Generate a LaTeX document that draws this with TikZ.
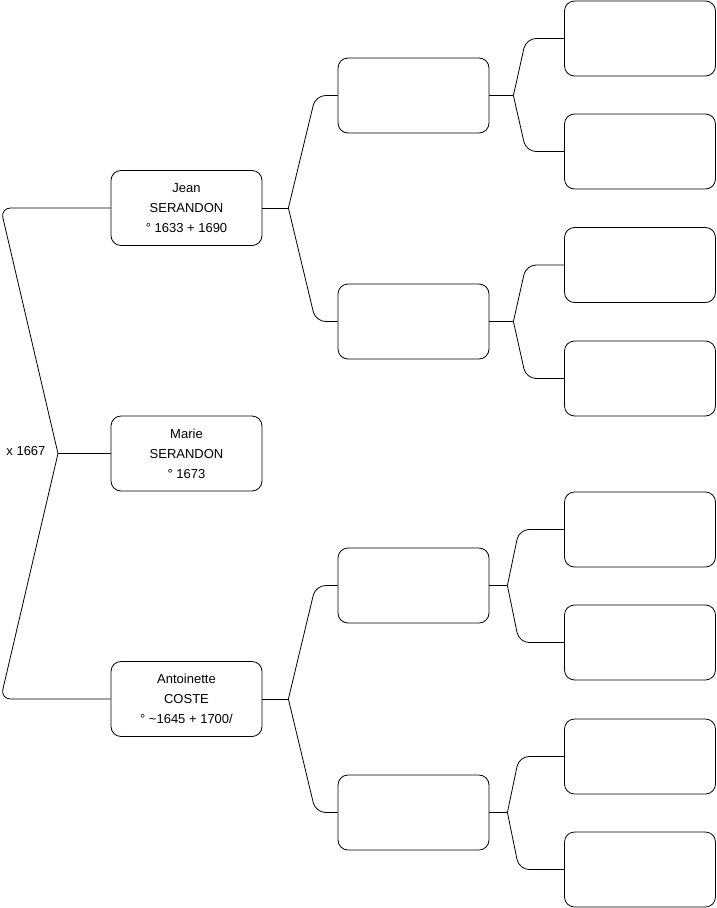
\documentclass[tikz,border=0pt]{standalone}
\usepackage{fontspec}
\setmainfont{Liberation Sans}
\usetikzlibrary{calc}

\begin{document}
\begin{tikzpicture}[x=1pt, y=-1pt,
  person/.style={draw, line width=0.8pt, rounded corners=10pt,
                 minimum width=151pt, minimum height=75pt,
                 font=\fontsize{13}{20}\selectfont, align=center},
  link/.style={draw, line width=0.8pt, rounded corners=10pt}]
  \useasboundingbox (0,0) rectangle (716,908);
  % generation 1
  \node[person] (jean) at (186.5,208) {Jean\\SERANDON\\° 1633 + 1690};
  \node[person] (marie) at (186.5,453.5) {Marie\\SERANDON\\° 1673};
  \node[person] (anto) at (186.5,699) {Antoinette\\COSTE\\° \textasciitilde1645 + 1700/};
  % generation 2
  \node[person] (p1) at (413.5,95.5) {};
  \node[person] (p2) at (413.5,321.5) {};
  \node[person] (p3) at (413.5,585.5) {};
  \node[person] (p4) at (413.5,812.5) {};
  % generation 3
  \node[person] (a1) at (640,38.5) {};
  \node[person] (a2) at (640,151.5) {};
  \node[person] (a3) at (640,265) {};
  \node[person] (a4) at (640,378.5) {};
  \node[person] (a5) at (640,529.5) {};
  \node[person] (a6) at (640,642.5) {};
  \node[person] (a7) at (640,756.5) {};
  \node[person] (a8) at (640,869.5) {};
  % marriage
  \coordinate (jm) at (58,453.5);
  \node[anchor=east, font=\fontsize{13}{15}\selectfont] (wed) at (49,451.5) {x 1667};
  \draw[link] (marie.west) -- (jm);
  \draw[link] (jm) -- ([xshift=-110pt]jean.west) -- (jean.west);
  \draw[link] (jm) -- ([xshift=-110pt]anto.west) -- (anto.west);
  % parents
  \coordinate (jj) at ($(jean.east)+(26,0)$);
  \coordinate (ja) at ($(anto.east)+(26,0)$);
  \draw[link] (jean.east) -- (jj);
  \draw[link] (jj) -- ([xshift=-22pt]p1.west) -- (p1.west);
  \draw[link] (jj) -- ([xshift=-22pt]p2.west) -- (p2.west);
  \draw[link] (anto.east) -- (ja);
  \draw[link] (ja) -- ([xshift=-22pt]p3.west) -- (p3.west);
  \draw[link] (ja) -- ([xshift=-22pt]p4.west) -- (p4.west);
  % grandparents
  \coordinate (j1) at ($(p1.east)+(24,0)$);
  \coordinate (j2) at ($(p2.east)+(24,0)$);
  \coordinate (j3) at ($(p3.east)+(18,0)$);
  \coordinate (j4) at ($(p4.east)+(18,0)$);
  \draw[link] (p1.east) -- (j1);
  \draw[link] (j1) -- ([xshift=-38pt]a1.west) -- (a1.west);
  \draw[link] (j1) -- ([xshift=-38pt]a2.west) -- (a2.west);
  \draw[link] (p2.east) -- (j2);
  \draw[link] (j2) -- ([xshift=-38pt]a3.west) -- (a3.west);
  \draw[link] (j2) -- ([xshift=-38pt]a4.west) -- (a4.west);
  \draw[link] (p3.east) -- (j3);
  \draw[link] (j3) -- ([xshift=-45pt]a5.west) -- (a5.west);
  \draw[link] (j3) -- ([xshift=-45pt]a6.west) -- (a6.west);
  \draw[link] (p4.east) -- (j4);
  \draw[link] (j4) -- ([xshift=-45pt]a7.west) -- (a7.west);
  \draw[link] (j4) -- ([xshift=-45pt]a8.west) -- (a8.west);
\end{tikzpicture}
\end{document}
